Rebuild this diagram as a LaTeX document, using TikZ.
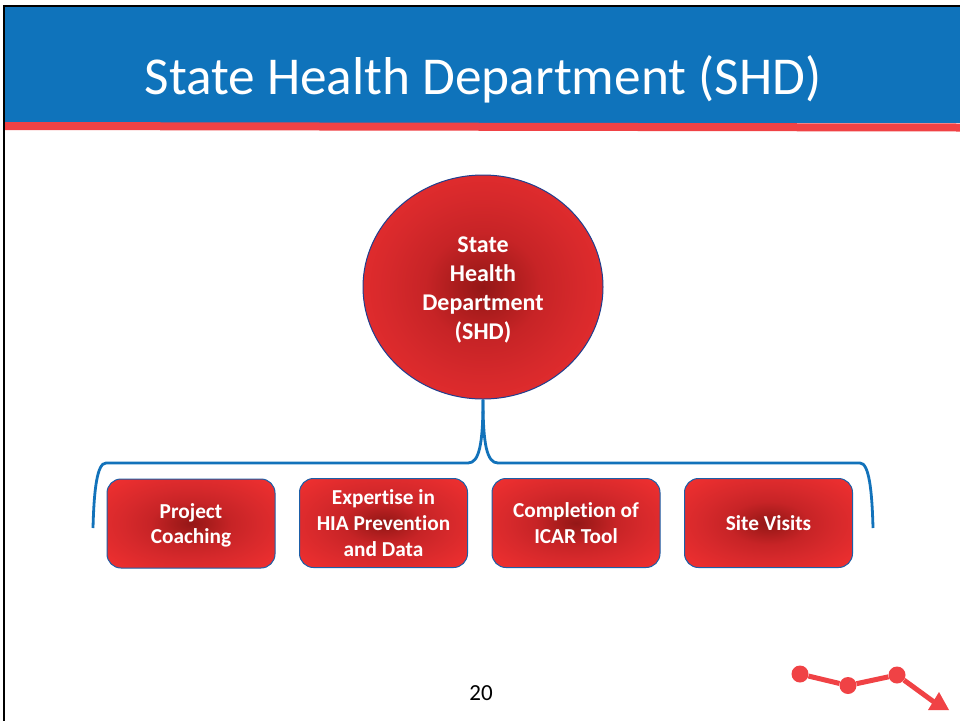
\documentclass[tikz,border=0pt]{standalone}
\usepackage{fontspec}
\setmainfont[Ligatures=CommonOff]{Carlito}
\usetikzlibrary{shapes.geometric}
\definecolor{hdrblue}{HTML}{0F73BB}
\definecolor{hdrred}{HTML}{F04245}
\definecolor{linkblue}{HTML}{1272BA}
\definecolor{edgeblue}{HTML}{1B5FA8}
\definecolor{navyedge}{HTML}{1F3F8F}
\pgfdeclareradialshading{redglow}{\pgfpoint{0bp}{0bp}}{%
  rgb(0bp)=(0.58,0.09,0.09);
  rgb(5bp)=(0.66,0.11,0.11);
  rgb(12bp)=(0.78,0.14,0.15);
  rgb(20bp)=(0.84,0.16,0.17);
  rgb(36bp)=(0.95,0.19,0.19);
  rgb(100bp)=(0.95,0.19,0.20)}
\tikzset{
  x=1pt,y=-1pt,
  topic/.style={draw=edgeblue,line width=1pt,rounded corners=14pt,minimum width=168pt,minimum height=89pt,inner sep=0pt,
    shading=redglow,text=white,font=\fontsize{21.3}{26}\selectfont\bfseries,align=center},
  hub/.style={ellipse,draw=navyedge,line width=1pt,minimum width=240pt,minimum height=224pt,inner sep=0pt,
    shading=redglow},
  hubtext/.style={text=white,font=\fontsize{24}{29}\selectfont\bfseries,align=center,inner sep=0pt},
  bracket/.style={draw=linkblue,line width=2.8pt},
  dot/.style={circle,fill=hdrred,minimum size=17pt,inner sep=0pt},
  trend/.style={draw=hdrred,line width=5pt}
}
\begin{document}
\begin{tikzpicture}
\useasboundingbox (0,0) rectangle (960,721);
\fill[white] (0,0) rectangle (960,721);
\fill[hdrblue] (5,7) rectangle (960,123);
\fill[hdrred] (5,122) -- (960,123.5) -- (960,131.5) -- (5,130) -- cycle;
\fill[black] (3,5) rectangle (960,7);
\fill[black] (3,5) rectangle (5,721);
\node[text=white,font=\fontsize{53.3}{60}\selectfont,anchor=center] (title) at (483,79) {State Health Department (SHD)};
\node[hub] (shd) at (483,287) {};
\node[hubtext] (shdlabel) at (483,290) {State\\Health\\Department\\(SHD)};
\node[topic] (b1) at (191,523.5) {};
\node[text=white,font=\fontsize{21.3}{25}\selectfont\bfseries,align=center,inner sep=0pt] (b1label) at (191,525) {Project\\Coaching};
\node[topic] (b2) at (383.5,523) {Expertise in\\HIA Prevention\\and Data};
\node[topic] (b3) at (576,523) {Completion of\\ICAR Tool};
\node[topic] (b4) at (768.5,523) {Site Visits};
\coordinate (lend) at (93,528);
\coordinate (rend) at (873,528);
\draw[bracket] (lend) .. controls (94,490) and (97,463) .. (106,463) -- (468,463)
  .. controls (479,463) and (483,445) .. (shd.south);
\draw[bracket] (rend) .. controls (872,490) and (869,463) .. (860,463) -- (498,463)
  .. controls (487,463) and (483,445) .. (shd.south);
\node[font=\fontsize{23}{28}\selectfont,text=black] (num) at (481,693) {20};
\node[dot] (p1) at (800,674) {};
\node[dot] (p2) at (848,685.5) {};
\node[dot] (p3) at (897,675) {};
\coordinate (p4) at (934,702);
\draw[trend] (p1) -- (p2) -- (p3) -- (p4);
\fill[hdrred] (939,692) -- (949,710) -- (928,710) -- cycle;
\end{tikzpicture}
\end{document}
